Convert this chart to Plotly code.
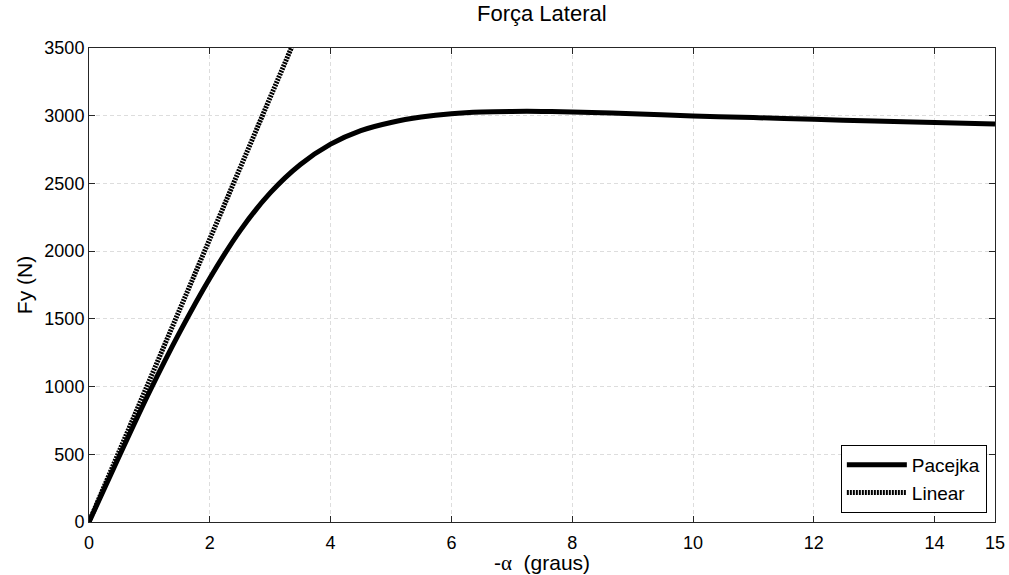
import plotly.graph_objects as go

# Pacejka curve
alpha_pac = [0, 0.5, 1.0, 1.5, 2.0, 2.5, 3.0, 3.5, 4.0, 4.5, 5.0, 5.5, 6.0, 6.5, 7.0, 7.5,
             8.0, 9.0, 10.0, 11.0, 12.0, 13.0, 14.0, 15.0]
fy_pac = [0, 485, 960, 1400, 1800, 2150, 2430, 2640, 2790, 2890, 2950, 2990, 3015, 3028, 3032, 3032,
          3028, 3014, 2998, 2986, 2973, 2961, 2949, 2938]

# Linear tyre model
alpha_lin = [0, 4]
fy_lin = [0, 4180]

x_ticks = [0, 2, 4, 6, 8, 10, 12, 14, 15]
y_ticks = [0, 500, 1000, 1500, 2000, 2500, 3000, 3500]

FONT = "Liberation Sans, Arial, sans-serif"

fig = go.Figure()
fig.add_trace(go.Scatter(x=alpha_pac, y=fy_pac, mode="lines", name="Pacejka",
                         line=dict(color="black", width=5, shape="spline", smoothing=1.0)))
fig.add_trace(go.Scatter(x=alpha_lin, y=fy_lin, mode="lines", name="Linear",
                         line=dict(color="black", width=5, dash="2px,1px")))

axis_common = dict(
    showline=True, linecolor="#262626", linewidth=1, mirror="ticks",
    ticks="inside", ticklen=6, tickcolor="#262626",
    showgrid=True, gridcolor="#dddddd", griddash="4px,3px", gridwidth=1,
    zeroline=False, automargin=False,
    tickfont=dict(family=FONT, size=18, color="black"),
)

fig.update_layout(
    width=1009, height=575,
    margin=dict(l=89, r=14, t=48, b=53),
    paper_bgcolor="white", plot_bgcolor="white",
    title=dict(text="Força Lateral", x=0.537, xanchor="center", y=0.99, yanchor="top",
               font=dict(family=FONT, size=22, color="black")),
    xaxis=dict(range=[0, 15], tickvals=x_ticks, ticklabelstandoff=4,
               title=dict(text="-<span style='font-family:Liberation Serif, Times New Roman, serif'>α</span>\u00a0\u00a0(graus)",
                          standoff=5,
                          font=dict(family=FONT, size=21, color="black")),
               **axis_common),
    yaxis=dict(range=[0, 3500], tickvals=y_ticks,
               title=dict(text="Fy (N)", standoff=6,
                          font=dict(family=FONT, size=21, color="black")),
               **axis_common),
    legend=dict(x=0.991, y=0.019, xanchor="right", yanchor="bottom",
                bgcolor="white", bordercolor="black", borderwidth=1,
                font=dict(family=FONT, size=19, color="black"),
                itemwidth=60, tracegroupgap=0),
    showlegend=True,
)

fig.write_html("out.html")
